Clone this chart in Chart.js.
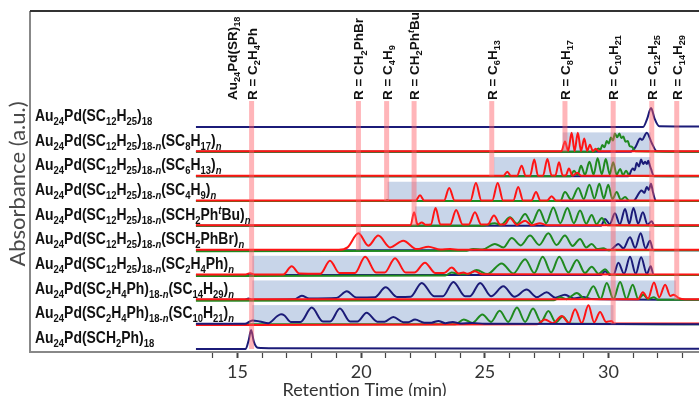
<!DOCTYPE html>
<html>
<head>
<meta charset="utf-8">
<script src="https://cdn.jsdelivr.net/npm/chart.js@4/dist/chart.umd.min.js"></script>
<style>
  html, body { margin: 0; padding: 0; background: #fff; overflow: hidden; }
  canvas { display: block; }
</style>
</head>
<body>
<canvas id="chromatograms" width="699" height="396"></canvas>
<script>
// Stacked HPLC traces, one row per cluster, bottom row = 0.
// Each trace is [time (min), absorbance above its own baseline].

const rowLabels = [
  'Au_{24}Pd(SCH_{2}Ph)_{18}',
  'Au_{24}Pd(SC_{2}H_{4}Ph)_{18-/n/}(SC_{10}H_{21})_{/n/}',
  'Au_{24}Pd(SC_{2}H_{4}Ph)_{18-/n/}(SC_{14}H_{29})_{/n/}',
  'Au_{24}Pd(SC_{12}H_{25})_{18-/n/}(SC_{2}H_{4}Ph)_{/n/}',
  'Au_{24}Pd(SC_{12}H_{25})_{18-/n/}(SCH_{2}PhBr)_{/n/}',
  'Au_{24}Pd(SC_{12}H_{25})_{18-/n/}(SCH_{2}Ph^{/t/}Bu)_{/n/}',
  'Au_{24}Pd(SC_{12}H_{25})_{18-/n/}(SC_{4}H_{9})_{/n/}',
  'Au_{24}Pd(SC_{12}H_{25})_{18-/n/}(SC_{6}H_{13})_{/n/}',
  'Au_{24}Pd(SC_{12}H_{25})_{18-/n/}(SC_{8}H_{17})_{/n/}',
  'Au_{24}Pd(SC_{12}H_{25})_{18}'
];

// shaded elution windows per row (min)
const bandStart = [null, 15.6, 15.6, 15.6, 19.9, 22.18, 21.07, 25.37, 28.15, null];
const bandEnd   = [null, 30.2, 32.72, 31.72, 31.7, 31.7, 31.7, 31.7, 31.7, null];

// reference retention times of the homoleptic clusters
const markerTimes = [15.57, 19.89, 21.03, 22.14, 25.28, 28.24, 30.19, 31.75, 32.76];
const markerRows  = [0, 4, 6, 5, 7, 8, 1, 3, 2];
const markerLabels = [
  ['Au_{24}Pd(SR)_{18}', 'R = C_{2}H_{4}Ph'],
  ['R = CH_{2}PhBr'],
  ['R = C_{4}H_{9}'],
  ['R = CH_{2}Ph^{/t/}Bu'],
  ['R = C_{6}H_{13}'],
  ['R = C_{8}H_{17}'],
  ['R = C_{10}H_{21}'],
  ['R = C_{12}H_{25}'],
  ['R = C_{14}H_{29}']
];

// row 0: Au24Pd(SCH2Ph)18
const r0Navy = [[13.32,0],[15.33,0],[15.45,0.35],[15.55,0.77],[15.66,0.3],[15.82,0.05],[16.5,0.03],[33.8,0.01]];

// row 1: SC2H4Ph / SC10H21
const r1Navy = [[13.32,0.02],[15.3,0.02],[15.6,0.16],[15.9,0.12],[16.25,0.05],[16.6,0.33],[16.76,0.41],[16.9,0.36],[17.15,0.1],[17.55,0.1],[18.0,0.68],[18.45,0.12],[18.75,0.12],[19.14,0.64],[19.55,0.12],[19.85,0.12],[20.22,0.47],[20.65,0.11],[20.95,0.11],[21.3,0.3],[21.7,0.09],[21.9,0.09],[22.18,0.2],[22.55,0.07],[22.85,0.07],[23.12,0.14],[23.4,0.05],[23.7,0.1],[24.0,0.04],[24.5,0.06],[25.0,0.02],[33.8,0]];
const r1Green = [[13.32,0],[23.8,0],[24.15,0.2],[24.5,0.06],[24.9,0.4],[25.25,0.1],[25.6,0.55],[25.95,0.1],[26.3,0.68],[26.63,0.1],[26.95,0.64],[27.27,0.1],[27.57,0.54],[27.87,0.08],[28.15,0.32],[28.42,0.04],[28.7,0.02],[33.8,0]];
const r1Red = [[13.32,-0.03],[27.1,0],[27.43,0.2],[27.75,0.05],[28.11,0.34],[28.4,0.05],[28.65,0.61],[28.92,0.05],[29.19,0.77],[29.42,0.08],[29.66,0.5],[29.9,0.1],[30.13,0.14],[30.22,0.04],[33.8,0.04]];

// row 2: SC2H4Ph / SC14H29
const r2Navy = [[13.32,0],[15.3,0],[15.44,0.05],[15.6,0],[17.3,0.02],[17.6,0.16],[17.9,0.05],[19.0,0.07],[19.42,0.34],[19.8,0.09],[20.55,0.1],[20.99,0.5],[21.45,0.11],[22.0,0.12],[22.45,0.68],[22.95,0.14],[23.3,0.14],[23.73,0.72],[24.2,0.14],[24.4,0.14],[24.81,0.68],[25.25,0.14],[25.75,0.54],[26.2,0.12],[26.69,0.41],[27.1,0.1],[27.5,0.3],[27.85,0.08],[28.24,0.2],[28.6,0.05],[28.98,0.11],[29.3,0.03],[33.8,0]];
const r2Green = [[13.32,-0.04],[27.8,-0.02],[28.04,0.1],[28.3,0.02],[28.72,0.27],[29.05,0.03],[29.39,0.54],[29.68,0.03],[29.93,0.68],[30.2,0.03],[30.47,0.72],[30.73,0.03],[30.98,0.61],[31.2,0.03],[31.41,0.2],[31.6,0.02],[31.84,0.1],[32.0,0],[33.8,0]];
const r2Red = [[13.32,0.02],[31.2,0.02],[31.39,0.3],[31.6,0.05],[31.84,0.7],[32.05,0.1],[32.29,0.61],[32.5,0.15],[32.63,0.2],[32.85,0.06],[33.1,0.02],[33.8,0.02]];

// row 3: SC12H25 / SC2H4Ph
const r3Navy = [[13.32,0],[29.7,0],[29.86,0.15],[30.05,0],[30.2,0],[30.4,0.5],[30.63,0.05],[30.87,0.74],[31.1,0.05],[31.32,0.72],[31.55,0.05],[31.71,0.36],[31.82,0],[33.8,0]];
const r3Green = [[13.32,-0.04],[23.4,-0.02],[23.66,0.1],[24.0,0.03],[24.3,0.03],[24.67,0.2],[25.1,0.04],[25.68,0.47],[26.15,0.06],[26.63,0.64],[27.0,0.08],[27.34,0.74],[27.68,0.1],[28.01,0.74],[28.38,0.1],[28.72,0.61],[29.05,0.08],[29.32,0.34],[29.6,0.05],[29.86,0.23],[30.1,0],[33.8,0]];
const r3Red = [[13.32,0.02],[15.3,0.02],[15.51,0.07],[15.7,0.02],[16.85,0.02],[17.19,0.36],[17.5,0.06],[18.35,0.05],[18.74,0.58],[19.12,0.08],[19.75,0.08],[20.16,0.74],[20.6,0.1],[20.95,0.1],[21.37,0.68],[21.8,0.1],[22.15,0.1],[22.58,0.5],[23.0,0.08],[23.35,0.08],[23.66,0.3],[23.95,0.06],[24.13,0.1],[24.3,0.05],[24.6,0.15],[24.9,0.03],[33.8,0.02]];

// row 4: SC12H25 / SCH2PhBr
const r4Navy = [[13.32,0],[30.05,0],[30.4,0.26],[30.6,0.08],[30.87,0.53],[31.08,0.1],[31.3,0.69],[31.5,0.08],[31.68,0.39],[31.81,0],[33.8,0]];
const r4Green = [[13.32,-0.04],[24.2,-0.02],[24.53,0.05],[24.9,0.03],[25.41,0.26],[25.75,0.12],[26.09,0.5],[26.45,0.2],[26.83,0.6],[27.2,0.22],[27.57,0.69],[27.9,0.22],[28.24,0.6],[28.55,0.18],[28.85,0.46],[29.1,0.12],[29.32,0.26],[29.55,0.05],[29.79,0.08],[30.0,0],[33.8,0]];
const r4Red = [[13.32,0.02],[19.1,0.02],[19.45,0.12],[19.89,0.69],[20.29,0.19],[20.69,0.6],[21.17,0.12],[21.7,0.39],[22.25,0.05],[22.72,0.15],[23.2,0.03],[23.6,0.05],[24.0,0.02],[33.8,0.02]];

// row 5: SC12H25 / SCH2PhtBu
const r5Navy = [[13.32,0],[29.7,0],[29.86,0.27],[30.05,0.06],[30.26,0.5],[30.46,0.06],[30.67,0.68],[30.84,0.08],[31.01,0.72],[31.2,0.08],[31.39,0.54],[31.58,0.05],[31.75,0.18],[31.85,0],[33.8,0]];
const r5Green = [[13.32,0],[24.9,0],[25.4,0.1],[25.65,0.03],[26.02,0.34],[26.3,0.08],[26.63,0.47],[26.9,0.1],[27.2,0.65],[27.48,0.1],[27.77,0.74],[28.05,0.1],[28.34,0.72],[28.6,0.1],[28.85,0.61],[29.1,0.08],[29.32,0.43],[29.52,0.06],[29.73,0.31],[29.95,0.02],[33.8,0]];
const r5Red = [[13.32,0.02],[22.0,0.02],[22.14,0.54],[22.28,0.04],[22.45,0.13],[22.6,0.04],[22.82,0.05],[23.01,0.72],[23.2,0.05],[23.6,0.05],[23.84,0.64],[24.1,0.05],[24.35,0.05],[24.6,0.54],[24.85,0.05],[25.12,0.05],[25.37,0.41],[25.62,0.05],[25.8,0.05],[26.02,0.31],[26.3,0.03],[26.63,0.2],[26.9,0.02],[27.23,0.1],[27.5,0.02],[33.8,0.02]];

// row 6: SC12H25 / SC4H9
const r6Navy = [[13.32,0],[31.0,0],[31.34,0.43],[31.45,0.33],[31.55,0.57],[31.63,0.45],[31.72,0.7],[31.8,0.35],[31.92,0],[33.8,0]];
const r6Green = [[13.32,0],[21.0,0],[21.05,0.04],[21.1,0],[28.05,0],[28.24,0.36],[28.5,0.05],[28.78,0.53],[29.0,0.08],[29.23,0.66],[29.43,0.1],[29.63,0.7],[29.81,0.1],[29.99,0.66],[30.16,0.08],[30.33,0.36],[30.5,0.05],[30.67,0.16],[30.85,0],[33.8,0]];
const r6Red = [[13.32,0.02],[22.2,0.02],[22.38,0.23],[22.55,0.02],[23.35,0.02],[23.56,0.53],[23.78,0.02],[24.42,0.02],[24.64,0.73],[24.86,0.02],[25.3,0.02],[25.52,0.73],[25.74,0.02],[26.15,0.02],[26.35,0.57],[26.55,0.02],[26.88,0.02],[27.07,0.36],[27.25,0.02],[27.52,0.02],[27.7,0.19],[27.88,0.02],[33.8,0.02]];

// row 7: SC12H25 / SC6H13
const r7Navy = [[13.32,0],[30.8,0],[30.98,0.32],[31.06,0.25],[31.14,0.54],[31.23,0.4],[31.32,0.68],[31.4,0.5],[31.48,0.59],[31.55,0.5],[31.61,0.63],[31.67,0.45],[31.72,0.3],[31.84,0],[33.8,0]];
const r7Green = [[13.32,0],[28.45,0],[28.61,0.23],[28.75,0.05],[28.89,0.43],[29.05,0.06],[29.23,0.59],[29.4,0.07],[29.56,0.73],[29.73,0.08],[29.89,0.7],[30.05,0.08],[30.19,0.57],[30.33,0.06],[30.47,0.3],[30.59,0.05],[30.71,0.23],[30.85,0.02],[33.8,0]];
const r7Red = [[13.32,0.02],[25.75,0.02],[25.91,0.19],[26.05,0.02],[26.3,0.02],[26.49,0.43],[26.65,0.02],[26.83,0.02],[27.0,0.68],[27.15,0.02],[27.35,0.02],[27.53,0.7],[27.7,0.03],[27.85,0.03],[28.0,0.57],[28.15,0.03],[28.27,0.03],[28.4,0.32],[28.55,0.02],[28.74,0.14],[28.9,0.02],[33.8,0.02]];

// row 8: SC12H25 / SC8H17
const r8Navy = [[13.32,0],[30.9,0],[31.1,0.2],[31.28,0.53],[31.36,0.48],[31.55,0.77],[31.75,0.35],[31.95,0.02],[33.8,0]];
const r8Green = [[13.32,0],[29.45,0],[29.59,0.13],[29.67,0.07],[29.75,0.27],[29.84,0.18],[29.93,0.43],[30.01,0.33],[30.1,0.57],[30.18,0.45],[30.26,0.74],[30.35,0.58],[30.44,0.74],[30.52,0.55],[30.6,0.61],[30.69,0.4],[30.78,0.43],[30.86,0.22],[30.94,0.2],[31.1,0.02],[33.8,0]];
const r8Red = [[13.32,0.02],[28.1,0.02],[28.24,0.41],[28.37,0.03],[28.51,0.77],[28.63,0.03],[28.76,0.77],[28.89,0.03],[29.02,0.53],[29.14,0.03],[29.25,0.28],[29.37,0.02],[29.48,0.12],[29.6,0.02],[33.8,0.02]];

// row 9: Au24Pd(SC12H25)18
const r9Navy = [[13.32,0],[31.4,0],[31.57,0.35],[31.72,0.77],[31.86,0.35],[32.05,0.03],[33.8,0.02]];

// [row, colour, points, draw order (lower = on top)]
const traces = [
  [0, 'navy', r0Navy, 3],
  [1, 'navy', r1Navy, 0], [1, 'green', r1Green, 2], [1, 'red', r1Red, 1],
  [2, 'navy', r2Navy, 3], [2, 'green', r2Green, 2], [2, 'red', r2Red, 1],
  [3, 'navy', r3Navy, 3], [3, 'green', r3Green, 2], [3, 'red', r3Red, 1],
  [4, 'navy', r4Navy, 3], [4, 'green', r4Green, 2], [4, 'red', r4Red, 1],
  [5, 'navy', r5Navy, 3], [5, 'green', r5Green, 2], [5, 'red', r5Red, 1],
  [6, 'navy', r6Navy, 3], [6, 'green', r6Green, 2], [6, 'red', r6Red, 1],
  [7, 'navy', r7Navy, 3], [7, 'green', r7Green, 2], [7, 'red', r7Red, 1],
  [8, 'navy', r8Navy, 3], [8, 'green', r8Green, 2], [8, 'red', r8Red, 1],
  [9, 'navy', r9Navy, 3]
];

const lineColors = { navy: '#1b1b78', green: '#1f8a1f', red: '#ff1414' };

const datasets = traces.map(([row, color, pts, order]) => ({
  data: pts.map(([t, h]) => ({ x: t, y: row + h })),
  borderColor: lineColors[color],
  borderWidth: 2,
  pointRadius: 0,
  fill: false,
  cubicInterpolationMode: 'monotone',
  order
}));

// tiny markup: _{..} subscript, ^{..} superscript, /../ italic
function parseRich(str) {
  const out = [];
  let mode = 'n', italic = false, buf = '';
  const flush = () => { if (buf) out.push({ text: buf, mode, italic }); buf = ''; };
  for (let i = 0; i < str.length; i++) {
    const c = str[i];
    if ((c === '_' || c === '^') && str[i + 1] === '{') { flush(); mode = c === '_' ? 'sub' : 'sup'; i++; }
    else if (c === '}' && mode !== 'n') { flush(); mode = 'n'; }
    else if (c === '/') { flush(); italic = !italic; }
    else buf += c;
  }
  flush();
  return out;
}

// draws at (x, y) on the baseline; sx squeezes the glyphs horizontally
function drawRich(ctx, str, x, y, size, family, color, sx = 1) {
  ctx.save();
  ctx.translate(x, y);
  ctx.scale(sx, 1);
  ctx.fillStyle = color;
  ctx.textAlign = 'left';
  ctx.textBaseline = 'alphabetic';
  let cx = 0;
  for (const seg of parseRich(str)) {
    const s = seg.mode === 'n' ? size : size * 0.68;
    const dy = seg.mode === 'sub' ? size * 0.24 : seg.mode === 'sup' ? -size * 0.36 : 0;
    ctx.font = (seg.italic ? 'italic ' : '') + 'bold ' + s + 'px ' + family;
    ctx.fillText(seg.text, cx, dy);
    cx += ctx.measureText(seg.text).width;
  }
  ctx.restore();
}

const labelFont = "'Liberation Sans', Arial, sans-serif";

const bandsPlugin = {
  id: 'bands',
  beforeDatasetsDraw(chart) {
    const { ctx, chartArea, scales: { x, y } } = chart;
    ctx.save();
    ctx.beginPath();
    ctx.rect(chartArea.left, chartArea.top, chartArea.right - chartArea.left, chartArea.bottom - chartArea.top);
    ctx.clip();
    ctx.fillStyle = '#c8d5e9';
    bandStart.forEach((t0, row) => {
      if (t0 === null) return;
      const x0 = x.getPixelForValue(t0), x1 = x.getPixelForValue(bandEnd[row]);
      const y0 = y.getPixelForValue(row + 0.78), y1 = y.getPixelForValue(row);
      ctx.fillRect(x0, y0, x1 - x0, y1 - y0);
    });
    ctx.restore();
  }
};

const markersPlugin = {
  id: 'markers',
  afterDatasetsDraw(chart) {
    const { ctx, scales: { x, y } } = chart;
    const topY = y.getPixelForValue(10.05);
    ctx.save();
    // pink reference lines
    ctx.strokeStyle = 'rgba(255, 90, 100, 0.45)';
    ctx.lineWidth = 5;
    markerTimes.forEach((t, i) => {
      const px = x.getPixelForValue(t);
      ctx.beginPath();
      ctx.moveTo(px, topY);
      ctx.lineTo(px, y.getPixelForValue(markerRows[i]));
      ctx.stroke();
    });
    // rotated labels above the lines
    markerTimes.forEach((t, i) => {
      const px = x.getPixelForValue(t);
      const lines = markerLabels[i];
      lines.forEach((txt, j) => {
        const off = (lines.length - 1 - j) * 20;
        ctx.save();
        ctx.translate(px + 5 - off, topY - 1);
        ctx.rotate(-Math.PI / 2);
        drawRich(ctx, txt, 0, 0, 13.5, labelFont, '#111');
        ctx.restore();
      });
    });
    // row captions on the left, condensed
    rowLabels.forEach((txt, row) => {
      drawRich(ctx, txt, 35, y.getPixelForValue(row) - 6, 17, labelFont, '#111', 0.82);
    });
    ctx.restore();
  },
  afterDraw(chart) {
    const { ctx, chartArea } = chart;
    ctx.save();
    ctx.lineWidth = 2;
    ctx.strokeStyle = '#888';
    ctx.beginPath();
    ctx.moveTo(chartArea.left, chartArea.top);
    ctx.lineTo(chartArea.left, chartArea.bottom);
    ctx.stroke();
    ctx.strokeStyle = '#333';
    ctx.beginPath();
    ctx.moveTo(chartArea.left, chartArea.top);
    ctx.lineTo(chartArea.right, chartArea.top);
    ctx.stroke();
    // y axis caption, partly off the left edge
    ctx.translate(25, 184);
    ctx.rotate(-Math.PI / 2);
    ctx.font = '22px Lato, sans-serif';
    ctx.fillStyle = '#4a4a4a';
    ctx.textAlign = 'center';
    ctx.textBaseline = 'alphabetic';
    ctx.fillText('Absorbance (a.u.)', 0, 0);
    ctx.restore();
  }
};

new Chart(document.getElementById('chromatograms'), {
  type: 'line',
  data: { datasets },
  options: {
    responsive: false,
    animation: false,
    layout: { padding: { left: 30, top: 11, right: 0, bottom: 0 } },
    plugins: {
      legend: { display: false },
      tooltip: { enabled: false }
    },
    scales: {
      x: {
        type: 'linear',
        min: 6.61,
        max: 33.66,
        afterBuildTicks: (scale) => {
          scale.ticks = scale.ticks.filter(t => t.value >= 14 && t.value <= 33);
        },
        afterFit: (scale) => { scale.height = 44; },
        ticks: {
          stepSize: 1,
          autoSkip: false,
          includeBounds: false,
          maxRotation: 0,
          padding: 3,
          color: '#333',
          font: { family: 'Lato', size: 18 },
          callback: (v) => (v % 5 === 0 ? String(v) : '')
        },
        grid: {
          drawOnChartArea: false,
          tickLength: 6,
          tickColor: '#444',
          tickWidth: (c) => (c.tick && c.tick.value % 5 === 0 ? 2 : 1.2)
        },
        border: { display: true, color: '#888', width: 2 },
        title: {
          display: true,
          text: 'Retention Time (min)',
          color: '#333',
          font: { family: 'Lato', size: 18, lineHeight: 0.6 },
          padding: 0
        }
      },
      y: {
        display: false,
        min: -0.12,
        max: 13.7
      }
    }
  },
  plugins: [bandsPlugin, markersPlugin]
});
</script>
</body>
</html>
